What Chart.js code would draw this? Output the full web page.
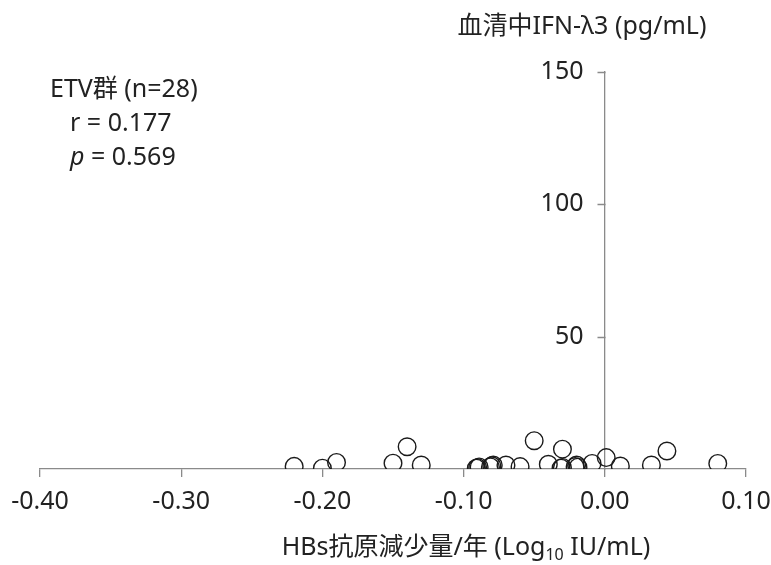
<!DOCTYPE html>
<html>
<head>
<meta charset="utf-8">
<script src="https://cdn.jsdelivr.net/npm/chart.js@4/dist/chart.umd.min.js"></script>
<style>
html,body{margin:0;padding:0;background:#fff;}
#wrap{width:771px;height:565px;position:relative;}
</style>
</head>
<body>
<div id="wrap"><canvas id="c" width="771" height="565"></canvas></div>
<script>
// HBs antigen decline per year (Log10 IU/mL)
const hbsDecline = [-0.220,-0.200,-0.190,-0.150,-0.140,-0.130,-0.091,-0.090,-0.089,-0.081,-0.080,-0.079,-0.070,-0.060,-0.050,-0.040,-0.030,-0.031,-0.030,-0.021,-0.020,-0.019,-0.009,0.001,0.011,0.033,0.044,0.080];
// Serum IFN-λ3 (pg/mL)
const ifnL3 = [1.0,0.3,2.5,2.2,8.4,1.5,0.3,0.5,0.8,0.8,1.2,1.5,1.5,0.9,10.7,1.8,7.5,0.3,0.6,0.9,1.5,0.7,2.1,4.3,1.1,1.5,6.8,2.1];
const xTicks = [-0.40,-0.30,-0.20,-0.10,0.00,0.10];
const yTicks = [50,100,150];
const xTitleMain = 'HBs抗原減少量/年 (Log';
const xTitleSub = '10';
const xTitleEnd = ' IU/mL)';
const yTitle = '血清中IFN-λ3 (pg/mL)';
const statLines = ['ETV群 (n=28)', 'r = 0.177', 'p = 0.569'];

const FONT = '"Noto Sans", "Noto Sans CJK JP", sans-serif';
const AXIS_COLOR = '#8a8a8a';
const TEXT_COLOR = '#222';
const points = hbsDecline.map((x, i) => ({x: x, y: ifnL3[i]}));

const textPlugin = {
  id: 'texts',
  afterDraw(chart) {
    const ctx = chart.ctx;
    const xs = chart.scales.x, ys = chart.scales.y;
    ctx.save();
    // y-axis tick marks and labels (axis crosses at x = 0)
    const ax = Math.round(xs.getPixelForValue(0)) + 0.5;
    ctx.strokeStyle = AXIS_COLOR;
    ctx.lineWidth = 1.3;
    ctx.beginPath();
    yTicks.forEach(v => {
      const py = Math.round(ys.getPixelForValue(v)) + 0.5;
      ctx.moveTo(ax, py); ctx.lineTo(ax - 8, py);
    });
    ctx.stroke();
    ctx.fillStyle = TEXT_COLOR;
    ctx.font = '25px ' + FONT;
    ctx.textAlign = 'right';
    ctx.textBaseline = 'middle';
    yTicks.forEach(v => {
      ctx.fillText(String(v), ax - 22, ys.getPixelForValue(v));
    });
    // y title
    ctx.font = '25px ' + FONT;
    ctx.textAlign = 'center';
    ctx.fillText(yTitle, 582, 27);
    // x title with subscript
    ctx.textAlign = 'left';
    const fMain = '25px ' + FONT, fSub = '16px ' + FONT;
    ctx.font = fMain; const w1 = ctx.measureText(xTitleMain).width; const w3 = ctx.measureText(xTitleEnd).width;
    ctx.font = fSub; const w2 = ctx.measureText(xTitleSub).width;
    let x0 = 466 - (w1 + w2 + w3) / 2;
    const yT = 548;
    ctx.font = fMain; ctx.fillText(xTitleMain, x0, yT);
    ctx.font = fSub; ctx.fillText(xTitleSub, x0 + w1, yT + 7);
    ctx.font = fMain; ctx.fillText(xTitleEnd, x0 + w1 + w2, yT);
    // stats
    ctx.font = '25px ' + FONT;
    ctx.fillText(statLines[0], 50, 90);
    ctx.fillText(statLines[1], 70, 124);
    ctx.font = 'italic 25px ' + FONT;
    ctx.fillText('p', 70, 158);
    const pw = ctx.measureText('p').width;
    ctx.font = '25px ' + FONT;
    ctx.fillText(statLines[2].slice(1), 70 + pw, 158);
    ctx.restore();
  }
};

new Chart(document.getElementById('c'), {
  type: 'scatter',
  data: {
    datasets: [{
      data: points,
      pointRadius: 8.8,
      pointHoverRadius: 8.8,
      pointBorderWidth: 1.4,
      pointBorderColor: '#1a1a1a',
      pointBackgroundColor: 'rgba(0,0,0,0)'
    }]
  },
  options: {
    responsive: false,
    animation: false,
    events: [],
    layout: {padding: {left: 40, right: 25, top: 72, bottom: 0}},
    plugins: {legend: {display: false}, tooltip: {enabled: false}},
    scales: {
      x: {
        type: 'linear',
        position: 'bottom',
        min: -0.40, max: 0.10,
        afterBuildTicks(s) { s.ticks = xTicks.map(v => ({value: v})); },
        afterFit(s) { s.height = 96; s.paddingLeft = 0; s.paddingRight = 0; },
        ticks: {
          color: TEXT_COLOR,
          font: {family: FONT, size: 25},
          padding: 10,
          maxRotation: 0,
          autoSkip: false,
          callback: v => v.toFixed(2)
        },
        grid: {display: true, drawOnChartArea: false, drawTicks: true, tickLength: 8, color: AXIS_COLOR, lineWidth: 1.3},
        border: {display: true, color: AXIS_COLOR, width: 1.3}
      },
      y: {
        type: 'linear',
        position: {x: 0},
        min: 0, max: 150,
        afterBuildTicks(s) { s.ticks = [0].concat(yTicks).map(v => ({value: v})); },
        ticks: {display: false},
        grid: {display: false},
        border: {display: true, color: AXIS_COLOR, width: 1.3}
      }
    }
  },
  plugins: [textPlugin]
});
</script>
</body>
</html>
